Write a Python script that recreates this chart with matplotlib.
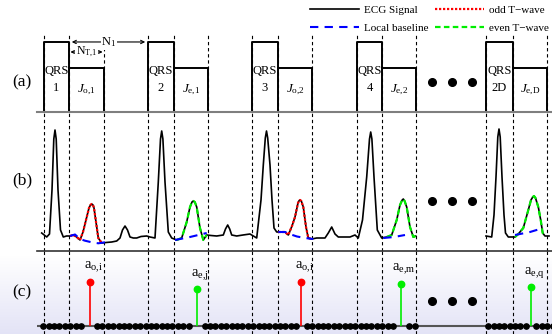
import numpy as np
import matplotlib.pyplot as plt

plt.rcParams['font.family'] = ['Liberation Serif', 'DejaVu Serif']
plt.rcParams['mathtext.fontset'] = 'custom'
plt.rcParams['mathtext.rm'] = 'Liberation Serif'
plt.rcParams['mathtext.it'] = 'Liberation Serif:italic'
plt.rcParams['mathtext.bf'] = 'Liberation Serif:bold'

# ================= data =================
# beat segmentation, in samples
qrs_start = [44, 148, 252, 357, 486]
qrs_end = [69, 174, 278, 382, 513]
j_end = [104, 208, 312, 416, 547]
qrs_names = ['1', '2', '3', '4', '2D']
j_names = [r'$J_{\mathrm{o}{,}\mathrm{1}}$', r'$J_{\mathrm{e}{,}\mathrm{1}}$',
           r'$J_{\mathrm{o}{,}\mathrm{2}}$', r'$J_{\mathrm{e}{,}\mathrm{2}}$',
           r'$J_{\mathrm{e}{,}\mathrm{D}}$']
j_parity = ['odd', 'even', 'odd', 'even', 'even']
qrs_level = 1.0
j_level = 0.63

# ECG, beats 1..4 (continuous) and beat 2D
ecg_x1 = [41.7, 46.7, 49.5, 52, 53.8, 55, 56.2, 58, 60.5, 63.3, 66.5, 70, 73.3, 76.7, 80, 83,
          86, 89, 90.5, 91.7, 93, 94, 96, 98.3, 101.7, 106, 111.7, 116.7, 120, 122.5, 125,
          127.5, 130, 133.3, 136.7, 141, 146.7, 150, 155, 158.3, 160.5, 161.7, 162.9, 165,
          168.3, 171.7, 176.7, 181.7, 186.7, 190, 192, 193.3, 194.8, 196.7, 200, 203.3, 206.7,
          211, 216.7, 223.3, 225.5, 227.7, 229.7, 231.7, 236.7, 243, 250, 256.7, 261, 263.3,
          265.3, 266.5, 267.7, 270, 272, 274, 276.7, 278.3, 285, 288.3, 292, 295, 298, 299.2,
          300, 301.3, 303.3, 306, 308.3, 311.7, 316.7, 325, 328.3, 331.7, 335, 338.3, 350,
          355, 358.3, 362.5, 366.7, 369.5, 370.7, 371.9, 374, 377.3, 381.7, 386.7, 391.7,
          396.7, 400, 402.2, 403.3, 404.6, 406.7, 410, 413.3, 415.7]
ecg_y1 = [0.03, -0.01, 0.02, 0.46, 0.97, 1.06, 0.97, 0.46, 0.06, -0.01, 0.0, 0.0, 0.01, -0.01,
          -0.04, 0.04, 0.16, 0.28, 0.31, 0.32, 0.31, 0.28, 0.14, -0.02, -0.07, -0.065, -0.06,
          -0.05, -0.02, 0.06, 0.10, 0.06, -0.01, -0.02, -0.02, -0.005, 0.0, -0.01, -0.02, 0.54,
          0.97, 1.05, 0.97, 0.54, 0.04, -0.02, -0.04, -0.02, 0.14, 0.29, 0.34, 0.35, 0.34, 0.29,
          0.08, -0.04, 0.01, 0.005, 0.0, 0.01, 0.07, 0.11, 0.07, 0.01, 0.0, 0.01, 0.02, -0.02,
          0.36, 0.71, 0.98, 1.05, 0.98, 0.71, 0.36, 0.08, 0.04, 0.04, 0.04, 0.01, 0.10, 0.19,
          0.33, 0.355, 0.36, 0.35, 0.29, 0.09, -0.02, -0.03, -0.02, -0.02, 0.03, 0.09, 0.02,
          -0.01, -0.01, 0.01, -0.02, 0.16, 0.59, 0.97, 1.04, 0.97, 0.59, 0.06, -0.02, -0.01,
          0.01, 0.16, 0.31, 0.36, 0.37, 0.35, 0.29, 0.09, -0.01, 0.0]
ecg_x2 = [486, 491.7, 494, 496, 497.8, 499, 500.2, 502, 504, 505.5, 508.3, 515, 518.3, 523.3,
          528.3, 531, 532.8, 534, 535.5, 538.3, 540.7, 542.7, 545, 549]
ecg_y2 = [0.0, -0.01, 0.21, 0.59, 0.99, 1.07, 0.99, 0.59, 0.21, 0.03, -0.01, -0.01, 0.02, 0.08,
          0.26, 0.36, 0.39, 0.40, 0.38, 0.29, 0.16, 0.03, 0.0, 0.0]

# local baseline under each T-wave
base_x = [[70, 75, 80, 85, 91.7, 98.3, 105, 108.3],
          [175, 190, 206.7],
          [278.3, 285, 291, 297, 305, 313.3],
          [383.3, 394, 405],
          [515, 530, 543.3]]
base_y = [[0.0, 0.015, -0.03, -0.047, -0.063, -0.073, -0.063, -0.05],
          [-0.04, -0.01, 0.03],
          [0.04, 0.04, 0.015, -0.005, -0.02, -0.03],
          [-0.02, -0.01, 0.01],
          [0.01, 0.04, 0.08]]

# alternans amplitudes
stem_x = [90, 196.7, 301, 400.7, 530.7]
stem_val = [1.0, 0.84, 1.01, 0.955, 0.89]
stem_parity = ['odd', 'even', 'odd', 'even', 'even']
stem_labels = [r'$\mathrm{a}_{\mathrm{o}{,}\mathrm{i}}$', r'$\mathrm{a}_{\mathrm{e}{,}\mathrm{j}}$',
               r'$\mathrm{a}_{\mathrm{o}{,}\mathrm{i}}$', r'$\mathrm{a}_{\mathrm{e}{,}\mathrm{m}}$',
               r'$\mathrm{a}_{\mathrm{e}{,}\mathrm{q}}$']
sample_x = np.concatenate([np.arange(43.3, 416, 5.38), np.arange(488.3, 553, 5.35)])

ellipsis_x = [432, 452, 472]
# ========================================

colors = {'odd': '#ff0000', 'even': '#00ee00'}
styles = {'odd': (0, (1, 0.8)), 'even': (0, (2.5, 1.5))}

W, H = 552, 334
fig = plt.figure(figsize=(W / 100, H / 100), dpi=100)

# soft lavender gradient at the bottom
bg = fig.add_axes([0, 0, 1, 1], zorder=-5)
rows = np.arange(H)
t = np.clip((rows - 255) / (H - 255), 0, 1)[:, None]
top_c = np.array([1.0, 1.0, 1.0])
bot_c = np.array([0.89, 0.89, 0.965])
img = (top_c * (1 - t) + bot_c * t)[:, None, :]
bg.imshow(img, aspect='auto', extent=[0, 1, 0, 1])
bg.axis('off')

x0 = 37 / W
ax_a = fig.add_axes([x0, (H - 112) / H, 1 - x0, (112 - 30) / H])
ax_b = fig.add_axes([x0, (H - 251) / H, 1 - x0, (251 - 112) / H])
ax_c = fig.add_axes([x0, 0, 1 - x0, (H - 251) / H])
for ax in (ax_a, ax_b, ax_c):
    ax.set_facecolor('none')
    ax.set_xlim(37, 552)
    ax.set_xticks([])
    ax.set_yticks([])
    for s in ax.spines.values():
        s.set_visible(False)

ax_a.set_ylim(0, 1.171)
ax_b.set_ylim(-0.15, 1.24)
ax_c.set_ylim(-0.182, 1.705)
ax_a.spines['bottom'].set_visible(True)
ax_a.spines['bottom'].set_color('#7f7f7f')
ax_a.spines['bottom'].set_linewidth(1.5)
ax_b.spines['bottom'].set_visible(True)
ax_b.spines['bottom'].set_color('#333333')
ax_b.spines['bottom'].set_linewidth(1.2)

bounds = sorted(qrs_start + qrs_end + j_end)
dash = dict(color='black', lw=0.8, linestyle=(0, (3, 2.5)))
ax_a.vlines(bounds, 0, 1.13, **dash)
for b in bounds:
    ax_b.axvline(b, **dash)
    ax_c.axvline(b, **dash)

# (a) segmentation boxes
for i in range(len(qrs_start)):
    s, e, j = qrs_start[i], qrs_end[i], j_end[i]
    ax_a.plot([s, s, e, e], [0, qrs_level, qrs_level, 0], color='black', lw=1.4)
    ax_a.plot([e, j, j], [j_level, j_level, 0], color='black', lw=1.4)
    ax_a.text((s + e) / 2, 0.59, 'QRS', ha='center', va='center', fontsize=9)
    ax_a.text((s + e) / 2, 0.34, qrs_names[i], ha='center', va='center', fontsize=9)
    ax_a.text((e + j) / 2, 0.31, j_names[i], ha='center', va='center', fontsize=9.5)

ax_a.annotate('', xy=(qrs_end[0], qrs_level), xytext=(qrs_start[1], qrs_level),
              arrowprops=dict(arrowstyle='<->', lw=0.8, shrinkA=2, shrinkB=2,
                              mutation_scale=6))
ax_a.text((qrs_end[0] + qrs_start[1]) / 2 + 0.5, qrs_level, r'N$_1$', ha='center', va='center',
          fontsize=9, bbox=dict(facecolor='white', edgecolor='none', pad=0.5))
ax_a.annotate('', xy=(qrs_end[0], 0.857), xytext=(j_end[0], 0.857),
              arrowprops=dict(arrowstyle='<->', lw=0.8, shrinkA=1, shrinkB=1,
                              mutation_scale=5))
ax_a.text((qrs_end[0] + j_end[0]) / 2, 0.857, r'N$_{\mathrm{T}{,}\mathrm{1}}$', ha='center',
          va='center', fontsize=8.5, bbox=dict(facecolor='white', edgecolor='none', pad=0.3))

# (b) ECG with T-waves and local baseline
ecg_line, = ax_b.plot(ecg_x1, ecg_y1, color='black', lw=1.2, label='ECG Signal')
ax_b.plot(ecg_x2, ecg_y2, color='black', lw=1.2)
ex = np.concatenate([ecg_x1, ecg_x2])
ey = np.concatenate([ecg_y1, ecg_y2])
handles = {}
for i in range(len(qrs_start)):
    m = (ex >= qrs_end[i]) & (ex <= j_end[i])
    p = j_parity[i]
    ln, = ax_b.plot(ex[m], ey[m], color=colors[p], lw=1.6, linestyle=styles[p])
    handles[p] = ln
    bl, = ax_b.plot(base_x[i], base_y[i], color='#0000ff', lw=1.5, linestyle=(0, (4, 3)))
handles['base'] = bl

# (c) amplitude stems
ax_c.axhline(0, color='#555555', lw=1.5, zorder=1)
keep = np.min(np.abs(sample_x[:, None] - np.array(stem_x)[None, :]), axis=1) > 4.5
ax_c.plot(sample_x[keep], np.zeros(keep.sum()), 'o', color='black', ms=3.8, zorder=3)
for i in range(len(stem_x)):
    c = colors[stem_parity[i]]
    ax_c.vlines(stem_x[i], 0, stem_val[i], color=c, lw=1.2, zorder=2)
    ax_c.plot(stem_x[i], stem_val[i], 'o', color=c, ms=4.6, zorder=3)
    ax_c.annotate(stem_labels[i], (stem_x[i], stem_val[i]), xytext=(2.5, 10.5),
                  textcoords='offset points', ha='center', va='center', fontsize=10.5)

for ax, yv in ((ax_a, 0.43), (ax_b, 0.353), (ax_c, 0.575)):
    ax.plot(ellipsis_x, [yv] * len(ellipsis_x), 'o', color='black', ms=5.5)

for lab, ypx in (('(a)', 82), ('(b)', 180), ('(c)', 292)):
    fig.text(22 / W, 1 - ypx / H, lab, ha='center', va='center', fontsize=12.5)

handles['odd'].set_label('odd T\u2212wave')
handles['even'].set_label('even T\u2212wave')
handles['base'].set_label('Local baseline')
fig.legend(handles=[ecg_line, handles['base'], handles['odd'], handles['even']],
           ncol=2, loc='upper left', bbox_to_anchor=(310 / W, 1 - 5 / H), frameon=False,
           fontsize=8, handlelength=4.4, handletextpad=0.45, columnspacing=0.63,
           labelspacing=0.75, borderpad=0, borderaxespad=0)

fig.savefig('out.png', dpi=100)
